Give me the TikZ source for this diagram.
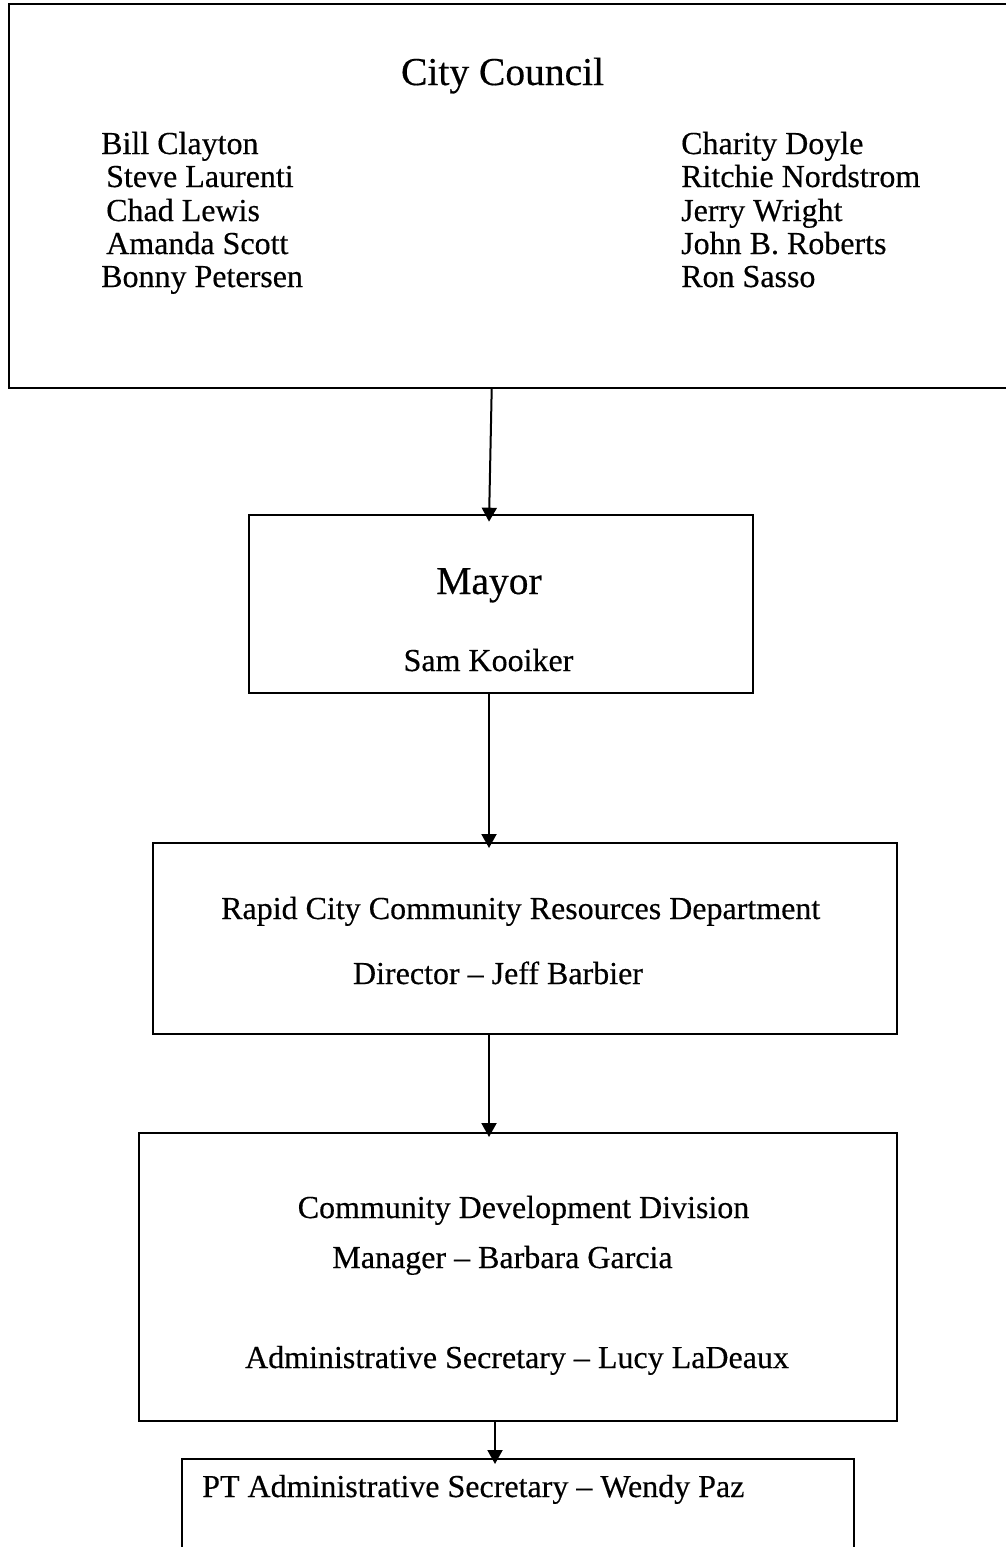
\documentclass[tikz,border=0pt]{standalone}
\usepackage{fontspec}
\setmainfont{Liberation Serif}[FakeBold=0.4]
\usetikzlibrary{arrows.meta}
\tikzset{
  boxnode/.style={draw=black, line width=2pt, rectangle, inner sep=0pt, anchor=center},
  txt/.style={inner sep=0pt, font=\fontsize{32}{38}\selectfont},
  titletxt/.style={inner sep=0pt, font=\fontsize{39.5}{46}\selectfont},
  conn/.style={line width=2pt, -{Triangle[width=15pt,length=14pt]}}
}
\begin{document}
\begin{tikzpicture}[x=1pt,y=-1pt]
\useasboundingbox (0,0) rectangle (1005,1547);
% boxes
\node[boxnode, minimum width=999pt, minimum height=384pt] (council) at (508.5,196) {};
\node[boxnode, minimum width=504.3pt, minimum height=177.5pt] (mayor) at (500.85,603.75) {};
\node[boxnode, minimum width=744pt, minimum height=191.5pt] (rapid) at (525,938.25) {};
\node[boxnode, minimum width=758pt, minimum height=288pt] (comm) at (518,1277) {};
\node[boxnode, minimum width=672pt, minimum height=101pt] (pt) at (518,1509.5) {};
% council texts
\node[titletxt, anchor=base] (cctitle) at (502.6,85) {City Council};
\node[txt, anchor=base west] (n1) at (101,154) {Bill Clayton};
\node[txt, anchor=base west] (n2) at (106,187) {Steve Laurenti};
\node[txt, anchor=base west] (n3) at (106,221) {Chad Lewis};
\node[txt, anchor=base west] (n4) at (106,254) {Amanda Scott};
\node[txt, anchor=base west] (n5) at (101,287) {Bonny Petersen};
\node[txt, anchor=base west] (m1) at (681,154) {Charity Doyle};
\node[txt, anchor=base west] (m2) at (681,187) {Ritchie Nordstrom};
\node[txt, anchor=base west] (m3) at (681,221) {Jerry Wright};
\node[txt, anchor=base west] (m4) at (681,254) {John B. Roberts};
\node[txt, anchor=base west] (m5) at (681,287) {Ron Sasso};
% mayor
\node[titletxt, anchor=base] (mayortitle) at (489,594) {Mayor};
\node[txt, anchor=base] (mayorname) at (488.5,671) {Sam Kooiker};
% rapid city
\node[txt, anchor=base] (rapidtitle) at (520.7,919) {Rapid City Community Resources Department};
\node[txt, anchor=base] (rapiddir) at (498,984) {Director -- Jeff Barbier};
% community development
\node[txt, anchor=base] (commtitle) at (523.5,1218) {Community Development Division};
\node[txt, anchor=base] (commmgr) at (502.5,1268) {Manager -- Barbara Garcia};
\node[txt, anchor=base] (commsec) at (517,1368) {Administrative Secretary -- Lucy LaDeaux};
% PT
\node[txt, anchor=base west] (ptsec) at (202,1497) {PT Administrative Secretary -- Wendy Paz};
% connectors
\draw[conn] ([xshift=-16.8pt]council.south) -- ([xshift=-11.85pt,yshift=-7.7pt]mayor.north);
\draw[conn] ([xshift=-11.85pt]mayor.south) -- ([xshift=-36pt,yshift=-6.5pt]rapid.north);
\draw[conn] ([xshift=-36pt]rapid.south) -- ([xshift=-29pt,yshift=-5pt]comm.north);
\draw[conn] ([xshift=-23pt]comm.south) -- ([xshift=-23pt,yshift=-6pt]pt.north);
\end{tikzpicture}
\end{document}
